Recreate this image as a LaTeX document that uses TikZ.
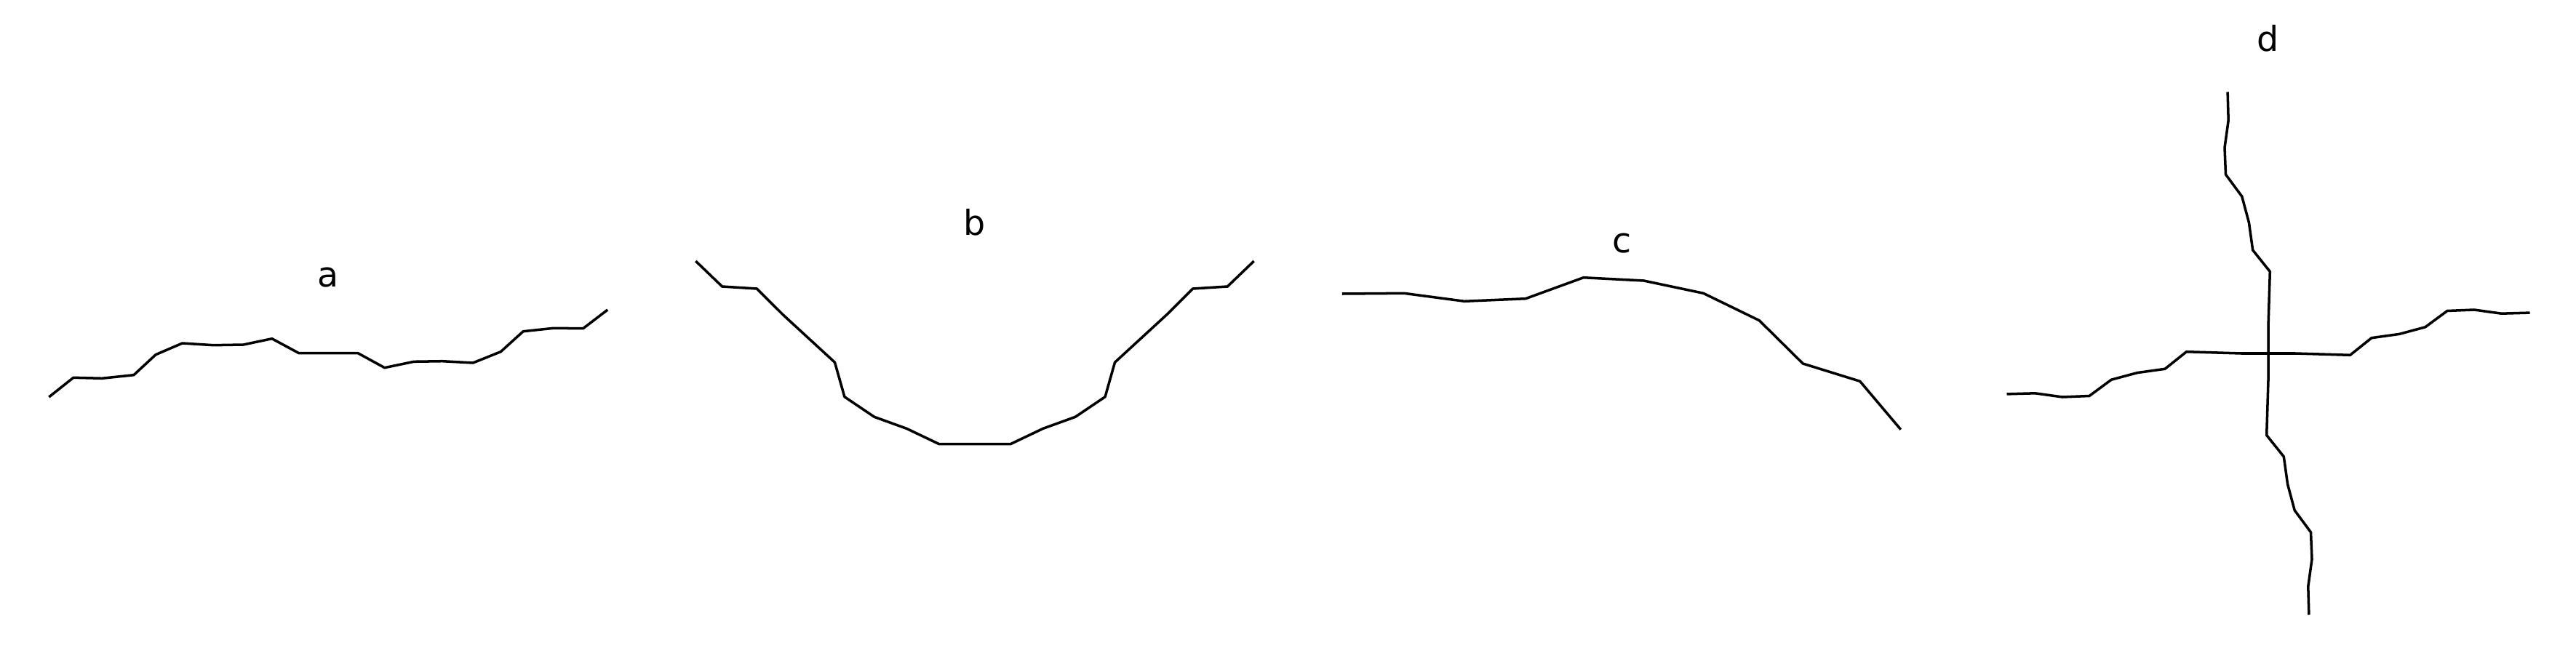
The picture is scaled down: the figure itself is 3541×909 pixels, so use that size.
\documentclass[tikz,border=0pt]{standalone}
\usepackage{fontspec}
\setmainfont{DejaVu Sans}
\usepackage{tikz}

\begin{document}
\begin{tikzpicture}[x=0.01cm, y=-0.01cm,
    crack/.style={black, line width=1pt, line join=round},
    tag/.style={font=\fontsize{13.5}{16}\selectfont, inner sep=0pt}]
            \useasboundingbox (0,0) rectangle (3541,909);
            % Panel a: wavy line
            \node[tag] (laba) at (451,382) {a};
            \draw[crack] (67.3,546) -- (100.9,519.3) -- (140.1,520.3) -- (183.9,515.7) -- (214.1,487.7)
                -- (250.6,472) -- (293.2,474.7) -- (334.6,474) -- (373.9,465.7) -- (410.9,485.7)
                -- (492.2,485.7) -- (528.6,505.7) -- (569,497.3) -- (608.2,496.7) -- (650.2,499)
                -- (688.3,483.7) -- (719.2,455.7) -- (760.7,451.3) -- (801.6,451.7) -- (835.2,426);
            % Panel b: trough
            \node[tag] (labb) at (1340,306) {b};
            \draw[crack] (956.3,359) -- (992.7,394) -- (1040.4,397) -- (1076.8,433.3) -- (1147.5,498.3)
                -- (1160.9,545.7) -- (1201.8,573.3) -- (1246.1,589.3) -- (1291,610.7) -- (1340,610.7)
                -- (1389,610.7) -- (1433.9,589.3) -- (1478.2,573.3) -- (1519.1,545.7) -- (1532.5,498.3)
                -- (1603.2,433.3) -- (1639.6,397) -- (1687.3,394) -- (1723.7,359);
            % Panel c: arch
            \node[tag] (labc) at (2230,335) {c};
            \draw[crack] (1844.8,404) -- (1930,403.3) -- (2013,414.3) -- (2097.1,410.7) -- (2176.7,381.7)
                -- (2259.6,386) -- (2341.5,403.3) -- (2418.3,440.7) -- (2478.3,500) -- (2556.7,524.3)
                -- (2612.8,590.7);
            % Panel d: crossing lines
            \node[tag] (labd) at (3118,53) {d};
            \draw[crack] (2758.5,541.9) -- (2797.5,540.8) -- (2835,546) -- (2872,544.5) -- (2902.2,522.2)
                -- (2938,512.6) -- (2976,507.3) -- (3005.5,483.7) -- (3081,486) -- (3118,486)
                -- (3155,486) -- (3230.5,488.3) -- (3260,464.7) -- (3298,459.4) -- (3333.8,449.8)
                -- (3364,427.5) -- (3401,426) -- (3438.5,431.2) -- (3477.5,430.1);
            \draw[crack] (3062.1,126.5) -- (3063.2,165.5) -- (3058,203) -- (3059.5,240) -- (3081.8,270.2)
                -- (3091.4,306) -- (3096.7,344) -- (3120.3,373.5) -- (3118,449) -- (3118,486)
                -- (3118,523) -- (3115.7,598.5) -- (3139.3,628) -- (3144.6,666) -- (3154.2,701.8)
                -- (3176.5,732) -- (3178,769) -- (3172.8,806.5) -- (3173.9,845.5);
\end{tikzpicture}
\end{document}
